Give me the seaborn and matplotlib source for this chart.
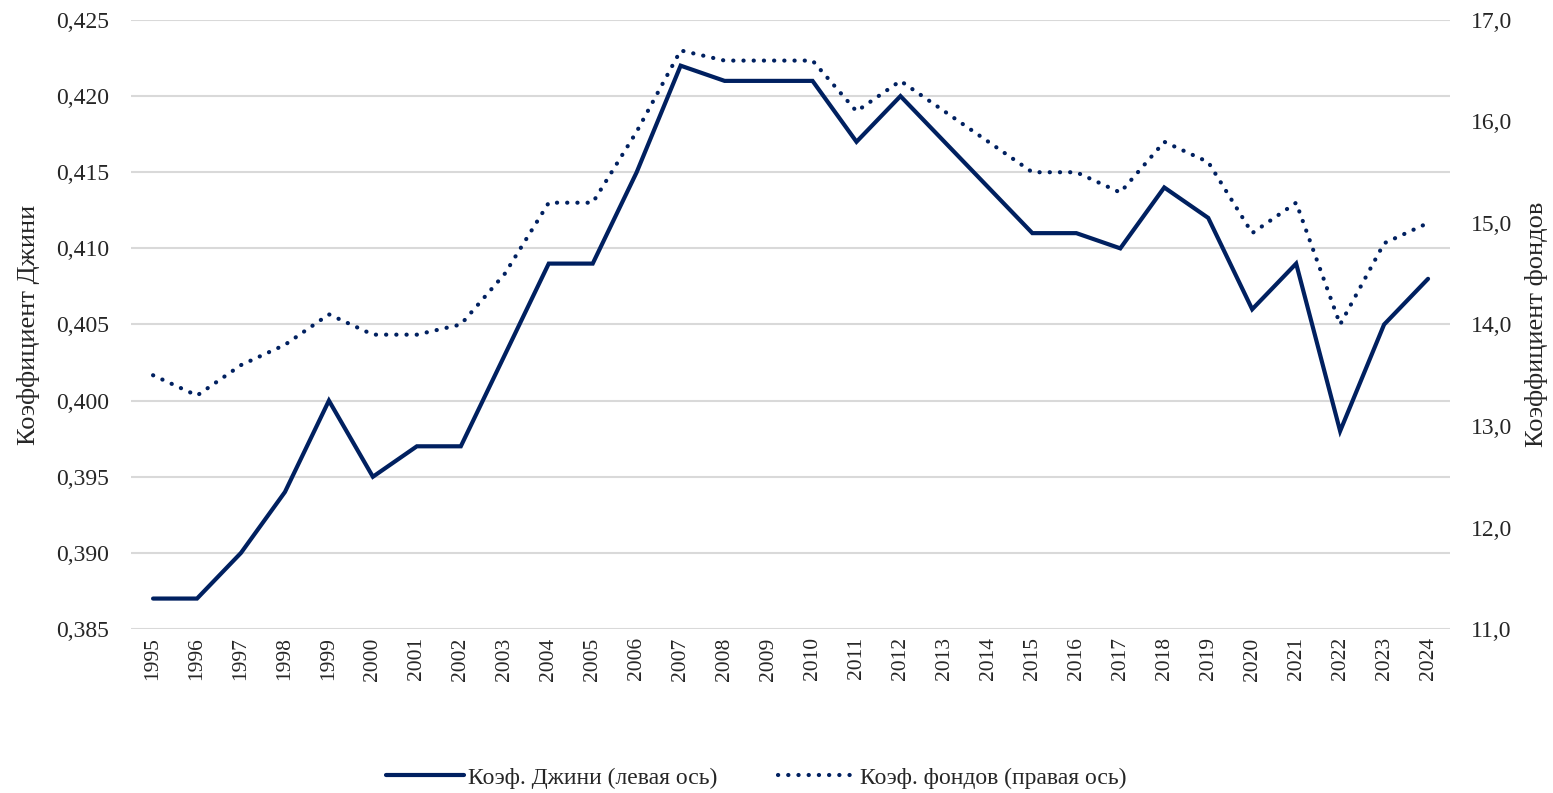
import matplotlib
matplotlib.use('Agg')
import matplotlib.pyplot as plt
import seaborn as sns
import pandas as pd
from matplotlib.ticker import FuncFormatter, FixedLocator

years = list(range(1995, 2025))
gini = [0.387, 0.387, 0.390, 0.394, 0.400, 0.395, 0.397, 0.397, 0.403, 0.409,
        0.409, 0.415, 0.422, 0.421, 0.421, 0.421, 0.417, 0.420, 0.417, 0.414,
        0.411, 0.411, 0.410, 0.414, 0.412, 0.406, 0.409, 0.398, 0.405, 0.408]
funds = [13.5, 13.3, 13.6, 13.8, 14.1, 13.9, 13.9, 14.0, 14.5, 15.2,
         15.2, 15.9, 16.7, 16.6, 16.6, 16.6, 16.1, 16.4, 16.1, 15.8,
         15.5, 15.5, 15.3, 15.8, 15.6, 14.9, 15.2, 14.0, 14.8, 15.0]
left_ticks = [0.385, 0.390, 0.395, 0.400, 0.405, 0.410, 0.415, 0.420, 0.425]
right_ticks = [11.0, 12.0, 13.0, 14.0, 15.0, 16.0, 17.0]

gini_label = 'Коэф. Джини (левая ось)'
funds_label = 'Коэф. фондов (правая ось)'

df = pd.DataFrame({'year': years, 'gini': gini, 'funds': funds})

sns.set_style('white')
plt.rcParams['font.family'] = ['Liberation Serif', 'DejaVu Serif']
color = '#002060'
fs = 17

fig = plt.figure(figsize=(15.53, 7.93), dpi=100)
ax = fig.add_axes([0.0844, 0.2068, 0.8493, 0.768])
ax2 = ax.twinx()

sns.lineplot(data=df, x='year', y='gini', ax=ax, color=color, linewidth=3,
             label=gini_label, legend=False)
sns.lineplot(data=df, x='year', y='funds', ax=ax2, color=color, linewidth=3,
             linestyle=(0, (0.05, 2.4)), dash_capstyle='round',
             label=funds_label, legend=False)
for l in ax.lines:
    l.set_solid_capstyle('round')
    l.set_solid_joinstyle('miter')

ax.set_xlim(1994.5, 2024.5)
ax.set_ylim(0.385, 0.425)
ax2.set_ylim(11.0, 17.0)
ax.yaxis.set_major_locator(FixedLocator(left_ticks))
ax2.yaxis.set_major_locator(FixedLocator(right_ticks))
ax.yaxis.set_major_formatter(FuncFormatter(lambda v, p: f'{v:.3f}'.replace('.', ',')))
ax2.yaxis.set_major_formatter(FuncFormatter(lambda v, p: f'{v:.1f}'.replace('.', ',')))
ax.set_xticks(years)
ax.set_xticklabels([str(y) for y in years], rotation=90)

ax.grid(axis='y', color='#d9d9d9', linewidth=1.5)
ax.set_axisbelow(True)
for a in (ax, ax2):
    for s in a.spines.values():
        s.set_visible(False)
ax.tick_params(axis='y', length=0, pad=16, labelsize=fs)
ax.tick_params(axis='x', length=0, pad=6, labelsize=15.5)
ax2.tick_params(axis='y', length=0, pad=15, labelsize=fs)

ax.set_xlabel('')
ax.set_ylabel('Коэффициент Джини', fontsize=19, labelpad=11)
ax2.set_ylabel('Коэффициент фондов', fontsize=19, labelpad=9)

handles = [ax.lines[0], ax2.lines[0]]
fig.legend(handles, [gini_label, funds_label], loc='center', ncol=2,
           bbox_to_anchor=(0.487, 0.019), frameon=False, fontsize=fs,
           handlelength=3.3, handletextpad=0.15, columnspacing=2.6)

plt.savefig('out.png', dpi=100)
